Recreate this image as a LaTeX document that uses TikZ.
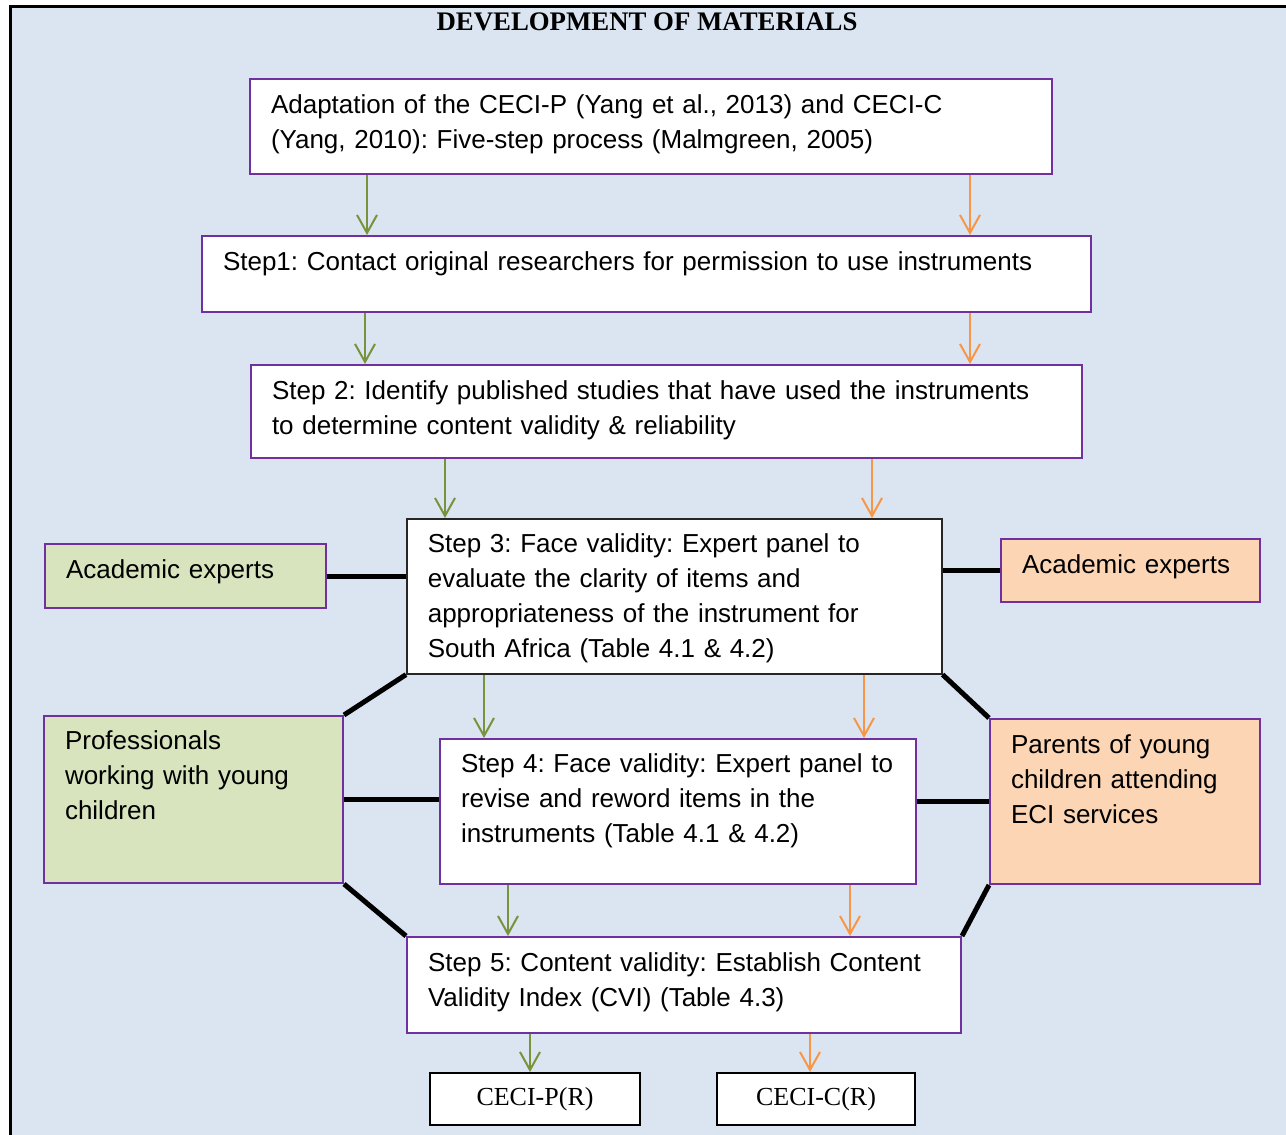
\documentclass[tikz,border=0pt]{standalone}
\usepackage{fontspec}
\setmainfont{Liberation Sans}
\newfontfamily\timesfont{Liberation Serif}
\usepackage{tikz}
\usetikzlibrary{arrows.meta}
\frenchspacing

\definecolor{bgblue}{HTML}{DBE5F1}
\definecolor{boxpurple}{HTML}{7030A0}
\definecolor{fillgreen}{HTML}{D7E4BD}
\definecolor{fillorange}{HTML}{FCD5B5}
\definecolor{arrgreen}{HTML}{77933C}
\definecolor{arrorange}{HTML}{F79646}

\tikzset{
  stepbox/.style={draw=boxpurple, fill=white, line width=1pt, anchor=north west,
    align=left, inner xsep=10.5pt, inner ysep=0pt,
    font=\fontsize{13}{17.5}\selectfont},
  greenbox/.style={stepbox, fill=fillgreen},
  orangebox/.style={stepbox, fill=fillorange},
  resultbox/.style={draw=black, fill=white, line width=1pt, minimum width=105pt,
    minimum height=26pt, inner sep=0pt, font=\timesfont\fontsize{13}{15}\selectfont},
  garrow/.style={arrgreen, line width=1pt, -{Straight Barb[length=9pt,width=10pt]}},
  oarrow/.style={arrorange, line width=1pt, -{Straight Barb[length=9pt,width=10pt]}},
  link/.style={black, line width=2.5pt}
}

\begin{document}
\begin{tikzpicture}[x=0.5pt,y=-0.5pt]

   \useasboundingbox (0,0) rectangle (1286,1135);
   \clip (0,0) rectangle (1286,1135);
   \draw[fill=bgblue, line width=1.5pt] (10,6) rectangle (1300,1150);

   \node[font=\timesfont\bfseries\fontsize{13.4}{15}\selectfont] (title) at (647,22) {DEVELOPMENT OF MATERIALS};

   \node[stepbox, text width=380pt, text height=17pt, text depth=30.5pt] (adapt) at (249,78)
     {Adaptation of the CECI-P (Yang et al., 2013) and CECI-C\\(Yang, 2010): Five-step process (Malmgreen, 2005)};
   \node[stepbox, text width=423.5pt, text height=17pt, text depth=21pt] (step1) at (201,235)
     {Step1: Contact original researchers for permission to use instruments};
   \node[stepbox, text width=394.5pt, text height=17pt, text depth=29.5pt] (step2) at (250,364)
     {Step 2: Identify published studies that have used the instruments\\to determine content validity \& reliability};
   \node[stepbox, draw=black!85, line width=0.8pt, text width=246.5pt, text height=17pt, text depth=60.5pt] (step3) at (406,518)
     {Step 3: Face validity: Expert panel to\\evaluate the clarity of items and\\appropriateness of the instrument for\\South Africa (Table 4.1 \& 4.2)};
   \node[stepbox, text width=217pt, text height=16.5pt, text depth=56pt] (step4) at (439,738)
     {Step 4: Face validity: Expert panel to\\revise and reword items in the\\instruments (Table 4.1 \& 4.2)};
   \node[stepbox, text width=256pt, text height=17pt, text depth=31pt] (step5) at (406,936)
     {Step 5: Content validity: Establish Content\\Validity Index (CVI) (Table 4.3)};

   \node[greenbox, text width=119.5pt, text height=17pt, text depth=15pt] (acadL) at (44,543) {Academic experts};
   \node[greenbox, text width=128.5pt, text height=16.5pt, text depth=67pt] (prof) at (43,715)
     {Professionals\\working with young\\children};
   \node[orangebox, text width=108.5pt, text height=17pt, text depth=14.5pt] (acadR) at (1000,538) {Academic experts};
   \node[orangebox, text width=114pt, text height=17pt, text depth=65.5pt] (parents) at (989,718)
     {Parents of young\\children attending\\ECI services};

   \node[resultbox] (cecip) at (535,1099) {CECI-P(R)};
   \node[resultbox, minimum width=99pt] (cecic) at (816,1099) {CECI-C(R)};

   % arrows down the steps
   \foreach \src/\dst/\gx in {adapt/step1/367, step1/step2/365, step2/step3/445,
                              step3/step4/484, step4/step5/508, step5/cecip/530} {
     \draw[garrow] (\src.south -| \gx,0) -- (\dst.north -| \gx,0);
   }
   \foreach \src/\dst/\ox in {adapt/step1/970, step1/step2/970, step2/step3/872,
                              step3/step4/864, step4/step5/850, step5/cecic/810} {
     \draw[oarrow] (\src.south -| \ox,0) -- (\dst.north -| \ox,0);
   }

   % panel links
   \draw[link] (acadL.east) -- (acadL.east -| step3.west);
   \draw[link] (step3.east |- acadR.west) -- (acadR.west);
   \draw[link] (step3.south west) -- (prof.north east);
   \draw[link] (step3.south east) -- (parents.north west);
   \draw[link] (prof.east) -- (prof.east -| step4.west);
   \draw[link] (parents.west -| step4.east) -- (parents.west);
   \draw[link] (prof.south east) -- (step5.north west);
   \draw[link] (parents.south west) -- (step5.north east);

\end{tikzpicture}
\end{document}
